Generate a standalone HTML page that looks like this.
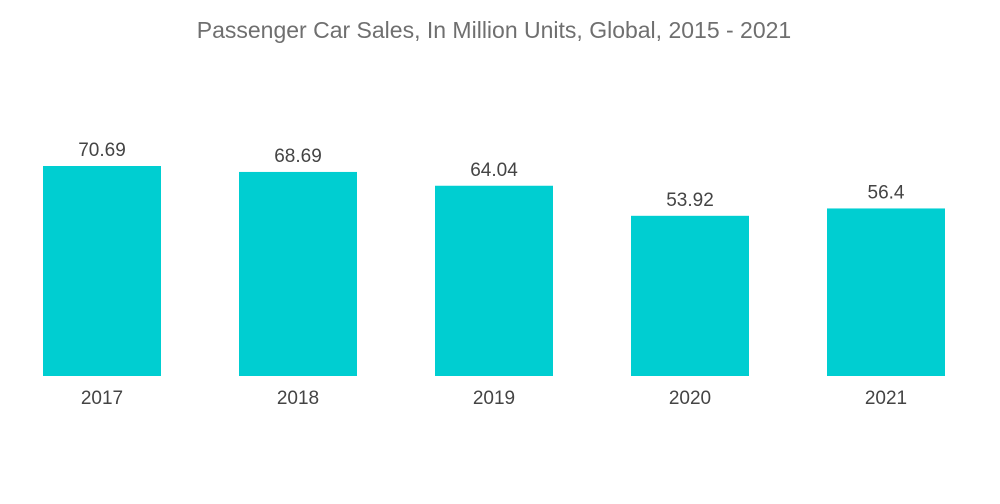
<!DOCTYPE html>
<html><head><meta charset="utf-8"><style>
html,body{margin:0;padding:0;background:#fff;}
svg{display:block;font-family:"Liberation Sans",sans-serif;}
</style></head><body>
<svg id="chart" width="1000" height="504">
<text x="494" y="38" text-anchor="middle" font-size="23" fill="#6f6f6f">Passenger Car Sales, In Million Units, Global, 2015 - 2021</text>
<g id="bars"></g>
</svg>
<script>
const categories = ["2017","2018","2019","2020","2021"];
const values = [70.69,68.69,64.04,53.92,56.4];
const valueLabels = ["70.69","68.69","64.04","53.92","56.4"];
const baseY = 376, pxPerUnit = 210/70.69, x0 = 4, band = 196, bw = 118;
const yScale = v => baseY - v*pxPerUnit;
const xScale = i => x0 + band*i + band/2;
const g = document.getElementById('bars');
const NS = "http://www.w3.org/2000/svg";
categories.forEach((c,i)=>{
  const cx = xScale(i), top = yScale(values[i]);
  const r = document.createElementNS(NS,'rect');
  r.setAttribute('x',cx-bw/2); r.setAttribute('y',top);
  r.setAttribute('width',bw); r.setAttribute('height',baseY-top);
  r.setAttribute('fill','#00ced1');
  
  
  g.appendChild(r);
  const t = document.createElementNS(NS,'text');
  t.setAttribute('x',cx); t.setAttribute('y',top-10);
  t.setAttribute('text-anchor','middle'); t.setAttribute('font-size','19'); t.setAttribute('fill','#444');
  t.textContent = valueLabels[i];
  
  
  g.appendChild(t);
  const l = document.createElementNS(NS,'text');
  l.setAttribute('x',cx); l.setAttribute('y',404);
  l.setAttribute('text-anchor','middle'); l.setAttribute('font-size','19'); l.setAttribute('fill','#444');
  l.textContent = c;
  
  
  g.appendChild(l);
});
</script>
</body></html>
